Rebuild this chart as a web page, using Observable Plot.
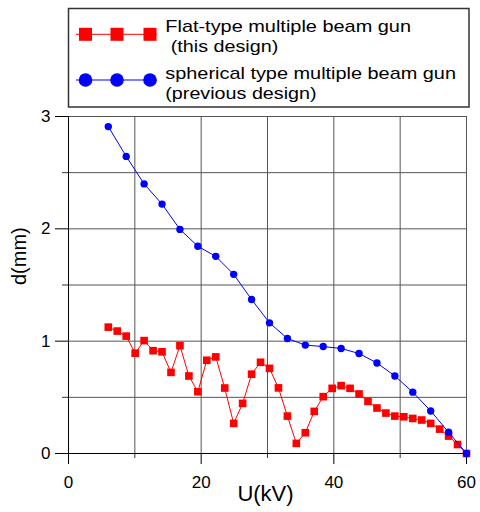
<!DOCTYPE html>
<html><head><meta charset="utf-8">
<script src="https://cdn.jsdelivr.net/npm/d3@7"></script>
<script src="https://cdn.jsdelivr.net/npm/@observablehq/plot@0.6"></script>
<style>
body{margin:0;background:#fff;font-family:"Liberation Sans",Arial,sans-serif;}
svg{display:block}
</style></head><body>
<div id="chart"></div>
<script>
// Flat-type multiple beam gun (this design)
const flatU = [6, 7.35, 8.7, 10.05, 11.4, 12.75, 14.1, 15.45, 16.8, 18.15, 19.5, 20.85, 22.2, 23.55, 24.9, 26.25, 27.6, 28.95, 30.3, 31.65, 33, 34.35, 35.7, 37.05, 38.4, 39.75, 41.1, 42.45, 43.8, 45.15, 46.5, 47.85, 49.2, 50.55, 51.9, 53.25, 54.6, 55.95, 57.3, 58.65, 60];
const flatD = [1.125, 1.09, 1.045, 0.893, 1.005, 0.915, 0.905, 0.722, 0.96, 0.69, 0.55, 0.83, 0.86, 0.583, 0.268, 0.446, 0.706, 0.812, 0.758, 0.584, 0.333, 0.09, 0.185, 0.375, 0.506, 0.58, 0.604, 0.58, 0.53, 0.464, 0.405, 0.36, 0.333, 0.327, 0.312, 0.298, 0.268, 0.217, 0.155, 0.08, 0];
// spherical type multiple beam gun (previous design)
const sphU = [6, 8.7, 11.4, 14.1, 16.8, 19.5, 22.2, 24.9, 27.6, 30.3, 33, 35.7, 38.4, 41.1, 43.8, 46.5, 49.2, 51.9, 54.6, 57.3, 60];
const sphD = [2.91, 2.645, 2.40, 2.22, 1.995, 1.845, 1.755, 1.595, 1.371, 1.163, 1.024, 0.965, 0.952, 0.935, 0.89, 0.806, 0.69, 0.546, 0.379, 0.19, 0];

const xMajorTicks = [0, 20, 40, 60];
const xMinorTicks = [10, 30, 50];
const xGridTicks = [0, 10, 20, 30, 40, 50, 60];
const yMajorTicks = [0, 1, 2, 3];
const yMinorTicks = [0.5, 1.5, 2.5];
const yGridTicks = [0, 0.5, 1, 1.5, 2, 2.5, 3];
const seriesLines = [["Flat-type multiple beam gun", " (this design)"], ["spherical type multiple beam gun", "(previous design)"]];
const seriesColors = ["#ff0000", "#0000ff"];
const xLabel = "U(kV)";
const yLabel = "d(mm)";

const FONT = "'Liberation Sans', Arial, sans-serif";
const chart = document.getElementById("chart");

// Legend (above the plot)
const lg = d3.create("svg").attr("width", 480).attr("height", 110);
lg.append("rect").attr("x", 68.5).attr("y", 8.5).attr("width", 400.5).attr("height", 98.5)
  .attr("fill", "#fff").attr("stroke", "#333").attr("stroke-width", 1.5);
const swX = [85.5, 117, 150];
const swY = [34.3, 80];
lg.append("line").attr("x1", 76).attr("x2", 157).attr("y1", swY[0]).attr("y2", swY[0]).attr("stroke", seriesColors[0]).attr("stroke-width", 1);
swX.forEach(x => lg.append("rect").attr("x", x - 6.5).attr("y", swY[0] - 6.5).attr("width", 13).attr("height", 13).attr("fill", seriesColors[0]));
lg.append("line").attr("x1", 76).attr("x2", 157).attr("y1", swY[1]).attr("y2", swY[1]).attr("stroke", seriesColors[1]).attr("stroke-width", 1);
swX.forEach(x => lg.append("circle").attr("cx", x).attr("cy", swY[1]).attr("r", 6.8).attr("fill", seriesColors[1]));
const textSpecs = [
  {t: seriesLines[0][0], x: 165.3, y: 31.5, w: 245.7},
  {t: seriesLines[0][1], x: 165.3, y: 52, w: 113},
  {t: seriesLines[1][0], x: 165.3, y: 79.2, w: 290.7},
  {t: seriesLines[1][1], x: 165.3, y: 98.6, w: 151.3}
];
textSpecs.forEach(s => lg.append("text").attr("x", s.x).attr("y", s.y)
  .style("font-family", FONT).attr("font-size", 17).attr("fill", "#000")
  .attr("xml:space", "preserve").style("white-space", "pre")
  .attr("textLength", s.w).attr("lengthAdjust", "spacingAndGlyphs").text(s.t));
chart.appendChild(lg.node());

const flat = flatU.map((u, i) => ({u, d: flatD[i]}));
const sph = sphU.map((u, i) => ({u, d: sphD[i]}));

const plot = Plot.plot({
  width: 480, height: 402,
  marginTop: 6, marginBottom: 59, marginLeft: 68, marginRight: 14,
  style: {fontFamily: FONT, fontSize: "17px", color: "#000", background: "#fff", overflow: "visible"},
  x: {domain: [0, 60], axis: null, label: null},
  y: {domain: [0, 3], axis: null, label: null},
  marks: [
    Plot.gridX(xGridTicks, {stroke: "#555", strokeOpacity: 1, strokeWidth: 1}),
    Plot.gridY(yGridTicks, {stroke: "#555", strokeOpacity: 1, strokeWidth: 1}),
    Plot.axisX(xMajorTicks, {tickSize: 11, tickPadding: 11, label: null, fontSize: 17, tickFormat: "d", stroke: "#000"}),
    Plot.axisX(xMinorTicks, {tickSize: 5, tickFormat: () => "", label: null, stroke: "#333"}),
    Plot.axisY(yMajorTicks, {tickSize: 13, tickPadding: 5, label: null, fontSize: 17, tickFormat: "d", stroke: "#000"}),
    Plot.axisY(yMinorTicks, {tickSize: 6, tickFormat: () => "", label: null, stroke: "#333"}),
    Plot.ruleX([0], {stroke: "#000"}),
    Plot.ruleY([0], {stroke: "#000"}),
    Plot.line(flat, {x: "u", y: "d", stroke: seriesColors[0], strokeWidth: 1}),
    Plot.dot(flat, {x: "u", y: "d", symbol: "square", r: 4.3, fill: seriesColors[0], stroke: "none"}),
    Plot.line(sph, {x: "u", y: "d", stroke: seriesColors[1], strokeWidth: 1}),
    Plot.dot(sph, {x: "u", y: "d", symbol: "circle", r: 3.7, fill: seriesColors[1], stroke: "none"}),
    Plot.text([yLabel], {text: d => d, frameAnchor: "left", rotate: -90, dx: -48.5, fontSize: 20, fill: "#000"}),
    Plot.text([xLabel], {text: d => d, frameAnchor: "bottom", dx: -2, dy: 47, fontSize: 22, fill: "#000"})
  ]
});
chart.appendChild(plot);
</script>
</body></html>
